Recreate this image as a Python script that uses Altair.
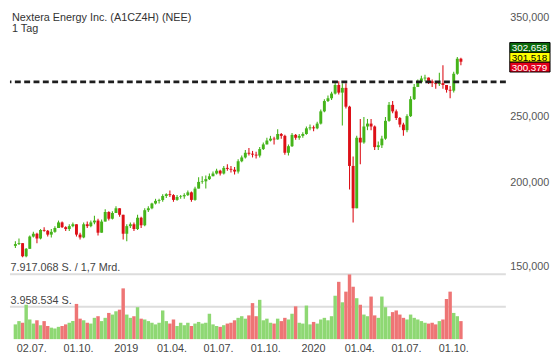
import altair as alt
import pandas as pd

FONT = "Liberation Sans, Arial, Helvetica, sans-serif"

title_main = "Nextera Energy Inc. (A1CZ4H) (NEE)"
title_sub = "1 Tag"

# weekly candles
start_date = "2018-06-01"
first_open = 161.0
closes = [
    162.0, 162.5, 155.4, 159.4, 166.2, 167.8, 165.1, 170.0, 169.5, 167.3,
    168.9, 171.1, 174.4, 171.6, 170.5, 172.2, 173.3, 167.3, 165.7, 173.3,
    172.2, 174.4, 175.5, 168.4, 174.9, 180.7, 176.6, 180.1, 183.0, 179.0,
    167.8, 172.2, 173.3, 170.5, 177.2, 172.7, 181.8, 183.0, 186.0, 187.7,
    188.2, 190.8, 192.0, 191.4, 188.3, 190.2, 190.6, 191.4, 193.2, 188.3,
    195.7, 200.2, 200.6, 202.1, 204.1, 206.0, 208.0, 206.0, 210.0, 209.3,
    208.7, 207.4, 214.8, 217.6, 221.1, 220.4, 219.7, 219.0, 223.9, 227.5,
    230.5, 232.0, 231.4, 235.7, 234.2, 221.1, 226.1, 235.0, 232.7, 234.2,
    235.7, 240.3, 241.1, 240.3, 244.2, 254.6, 263.7, 266.2, 270.5, 278.5,
    271.4, 275.8, 258.7, 211.4, 183.0, 232.7, 229.0, 241.8, 244.2, 241.8,
    225.4, 226.8, 232.0, 246.5, 260.3, 254.6, 248.9, 243.4, 238.8, 250.5,
    265.4, 276.7, 281.2, 284.8, 285.6, 282.1, 280.3, 279.4, 280.3, 278.5,
    274.0, 273.2, 289.4, 304.6, 301.518,
]
highs = [
    163.6, 165.1, 162.5, 159.9, 166.8, 168.9, 168.4, 170.5, 171.6, 170.0,
    170.5, 172.2, 175.5, 174.9, 172.2, 173.3, 174.4, 173.3, 168.4, 174.4,
    174.9, 175.5, 178.4, 176.6, 176.1, 182.4, 181.2, 181.2, 184.2, 183.0,
    179.0, 173.3, 174.4, 174.4, 179.0, 177.8, 183.0, 184.2, 186.5, 189.0,
    189.0, 192.0, 192.6, 194.5, 192.0, 191.4, 191.4, 192.6, 194.5, 193.8,
    197.0, 203.4, 204.1, 204.7, 206.0, 207.4, 209.4, 208.7, 211.4, 212.7,
    211.4, 210.7, 216.2, 219.0, 223.2, 224.7, 222.5, 221.8, 225.4, 229.0,
    232.7, 234.2, 233.5, 239.5, 236.5, 235.0, 227.5, 236.5, 235.7, 235.7,
    237.2, 241.8, 243.4, 242.6, 245.8, 256.2, 265.4, 268.8, 272.3, 281.2,
    282.1, 280.3, 280.3, 259.5, 218.3, 234.2, 248.1, 249.7, 248.1, 248.1,
    242.6, 229.8, 234.2, 249.7, 262.9, 263.7, 256.2, 249.7, 245.0, 252.1,
    268.0, 279.4, 283.9, 287.5, 288.5, 285.7, 283.9, 282.1, 290.4, 297.9,
    278.5, 277.6, 291.3, 306.5, 305.5,
]
lows = [
    159.9, 161.5, 154.9, 154.9, 159.4, 165.7, 162.5, 164.6, 168.9, 166.2,
    165.7, 168.4, 171.1, 171.1, 169.4, 169.4, 171.6, 166.2, 164.6, 165.2,
    171.1, 171.6, 173.3, 166.8, 168.4, 174.9, 175.5, 176.1, 180.1, 177.8,
    164.6, 163.6, 171.1, 169.4, 170.0, 171.1, 172.2, 180.7, 182.4, 185.4,
    186.0, 187.1, 189.6, 190.2, 187.1, 187.7, 189.0, 189.0, 190.8, 187.1,
    187.7, 195.7, 198.9, 195.7, 201.5, 204.1, 205.4, 204.7, 205.4, 208.0,
    206.7, 205.4, 206.0, 214.1, 216.9, 219.0, 217.6, 216.9, 217.6, 223.2,
    227.5, 229.8, 227.5, 231.2, 232.0, 219.7, 219.0, 225.4, 231.2, 231.2,
    232.7, 235.0, 238.8, 238.0, 239.5, 243.4, 253.8, 262.9, 264.6, 269.7,
    269.7, 242.6, 257.0, 195.1, 174.4, 183.0, 212.7, 228.0, 238.8, 238.8,
    223.2, 223.2, 224.7, 231.2, 245.8, 253.0, 247.3, 241.1, 234.2, 237.2,
    249.7, 264.6, 276.7, 280.3, 282.1, 279.4, 276.7, 274.9, 277.6, 274.9,
    271.4, 266.2, 271.4, 288.5, 297.9,
]
volumes_m = [
    1.8, 2.2, 2.0, 4.2, 2.4, 1.9, 2.3, 1.7, 2.2, 1.6,
    1.4, 1.3, 1.5, 1.6, 1.8, 2.0, 2.2, 4.3, 2.5, 2.3,
    2.0, 1.9, 2.6, 2.8, 2.2, 2.6, 3.2, 3.0, 3.4, 3.6,
    6.2, 3.0, 2.6, 2.8, 3.9, 2.5, 2.4, 2.2, 2.0, 1.8,
    2.0, 3.5, 2.2, 1.9, 2.4, 1.6, 2.0, 1.7, 2.0, 1.6,
    1.9, 2.1, 1.9, 2.0, 3.1, 1.8, 1.6, 1.5, 1.7, 1.9,
    2.0, 2.3, 2.6, 2.8, 2.5, 2.9, 4.4, 2.8, 4.8, 2.3,
    2.5, 2.0, 1.9, 2.5, 2.2, 2.6, 2.4, 3.1, 4.0, 2.0,
    1.9, 4.1, 1.8, 2.1, 1.9, 2.4, 2.6, 2.3, 2.8, 5.3,
    7.0, 4.5, 5.8, 7.9, 6.4, 5.0, 4.2, 3.0, 2.8, 5.2,
    2.9, 2.6, 5.2, 3.9, 2.8, 3.3, 3.5, 3.0, 2.6, 2.4,
    3.0, 2.6, 2.4, 2.2, 2.0, 1.9, 2.0, 1.8, 2.2, 2.4,
    4.9, 5.8, 3.2, 2.8, 2.2,
]

prev_high = 281.5
quote_values = [302.658, 301.518, 300.379]
quote_labels = ["302,658", "301,518", "300,379"]
vol_lines = [3.958534, 7.917068]
vol_line_labels = ["3.958.534 S.", "7.917.068 S. / 1,7 Mrd."]
price_ticks = [150, 200, 250, 350]
date_ticks = [(2018, 7, 2), (2018, 10, 1), (2019, 1, 2), (2019, 4, 1), (2019, 7, 1),
              (2019, 10, 1), (2020, 1, 2), (2020, 4, 1), (2020, 7, 1), (2020, 10, 1)]

W, H1, H2 = 505, 262, 66
UP, DOWN = "#45b41a", "#dd1018"
VUP, VDOWN = "#8ed873", "#ee7575"
quote_fills = ["#0b6b0b", "#ffff00", "#e3001b"]
quote_text = ["white", "black", "white"]
quote_offsets = [-14.5, -4.5, 5.5]
box_path = "M-1,-0.244L1,-0.244L1,0.244L-1,0.244Z"

dates = pd.date_range(start_date, periods=len(closes), freq="7D").strftime("%Y-%m-%d")
opens = [first_open] + closes[:-1]
df = pd.DataFrame(dict(date=dates, open=opens, high=highs, low=lows, close=closes, vol=volumes_m))
df["dir"] = ["up" if c >= o else "down" for o, c in zip(opens, closes)]
df["vdir"] = ["vup" if d == "up" else "vdown" for d in df["dir"]]

xscale = alt.Scale(type="utc", nice=False,
                   domain=[alt.DateTime(year=2018, month=5, date=31, utc=True),
                           alt.DateTime(year=2021, month=1, date=2, utc=True)])
yscale = alt.Scale(type="log", domain=[148.6, 357], nice=False)
yaxis = alt.Axis(orient="right", values=price_ticks,
                 labelExpr="replace(format(datum.value, '.3f'), '.', ',')",
                 domain=False, ticks=False, grid=False, labelPadding=4,
                 labelFontSize=11, labelFont=FONT, labelColor="#555555", labelOverlap=False)

color = alt.Color("dir:N", scale=alt.Scale(domain=["up", "down"], range=[UP, DOWN]), legend=None)
base = alt.Chart(df).encode(x=alt.X("date:T", scale=xscale, axis=None))

wicks = base.mark_rule(strokeWidth=1.1).encode(
    y=alt.Y("low:Q", scale=yscale, axis=yaxis, title=None), y2="high:Q", color=color)
bodies = base.mark_bar(size=3.0).encode(
    y=alt.Y("open:Q", scale=yscale, axis=yaxis, title=None), y2="close:Q", color=color)

dash = alt.Chart(pd.DataFrame({"level": [prev_high]})).mark_rule(
    color="#1e1e1e", strokeWidth=2.6, strokeDash=[6, 3.5]
).encode(y=alt.Y("level:Q", scale=yscale, axis=yaxis, title=None))

t1 = alt.Chart(pd.DataFrame({"t": [title_main]})).mark_text(
    align="left", baseline="top", fontSize=11, font=FONT, color="#333333"
).encode(x=alt.value(2), y=alt.value(0), text="t:N")
t2 = alt.Chart(pd.DataFrame({"t": [title_sub]})).mark_text(
    align="left", baseline="top", fontSize=11, font=FONT, color="#333333"
).encode(x=alt.value(2), y=alt.value(11), text="t:N")

layers = [wicks, bodies, dash, t1, t2]
for i in range(3):
    qd = pd.DataFrame({"anchor": [quote_values[1]], "label": [quote_labels[i]]})
    box = alt.Chart(qd).mark_point(
        shape=box_path, size=41 * 41, filled=True, fill=quote_fills[i], stroke="black",
        strokeWidth=1, opacity=1, yOffset=quote_offsets[i]
    ).encode(x=alt.value(W + 24.5), y=alt.Y("anchor:Q", scale=yscale, axis=yaxis, title=None))
    txt = alt.Chart(qd).mark_text(
        align="left", baseline="middle", fontSize=10, font=FONT, color=quote_text[i],
        dy=quote_offsets[i] + 0.5
    ).encode(x=alt.value(W + 6), y=alt.Y("anchor:Q", scale=yscale, axis=yaxis, title=None), text="label:N")
    layers += [box, txt]

price = alt.layer(*layers).properties(width=W, height=H1)

vdf = pd.DataFrame({"g": vol_lines, "label": vol_line_labels})
vscale = alt.Scale(domain=[0, vol_lines[1]], nice=False, zero=True)
xaxis = alt.Axis(values=[alt.DateTime(year=y, month=m, date=d, utc=True) for y, m, d in date_ticks],
                 labelExpr="utcFormat(datum.value, '%m') == '01' ? utcFormat(datum.value, '%Y') : utcFormat(datum.value, '%d.%m.')",
                 domain=False, ticks=False, grid=False, labelPadding=4, labelFontSize=11,
                 labelFont=FONT, labelColor="#444444", labelOverlap=False, labelFlush=False)

grid = alt.Chart(vdf).mark_rule(color="#dddddd", strokeWidth=2).encode(
    y=alt.Y("g:Q", scale=vscale, axis=None))
vbars = alt.Chart(df).mark_bar(size=3.5).encode(
    x=alt.X("date:T", scale=xscale, axis=xaxis, title=None),
    y=alt.Y("vol:Q", scale=vscale, axis=None),
    color=alt.Color("vdir:N", scale=alt.Scale(domain=["vup", "vdown"], range=[VUP, VDOWN]), legend=None))
vtext = alt.Chart(vdf).mark_text(
    align="left", baseline="alphabetic", dy=-3, fontSize=11, font=FONT, color="#444444"
).encode(x=alt.value(0.5), y=alt.Y("g:Q", scale=vscale, axis=None), text="label:N")

volume = alt.layer(grid, vbars, vtext).properties(width=W, height=H2)

chart = alt.vconcat(price, volume, spacing=5).resolve_scale(
    color="independent"
).properties(padding=0, background="white", bounds="flush").configure_view(stroke=None)

chart.save("out.html", embed_options={"renderer": "svg", "actions": False})
